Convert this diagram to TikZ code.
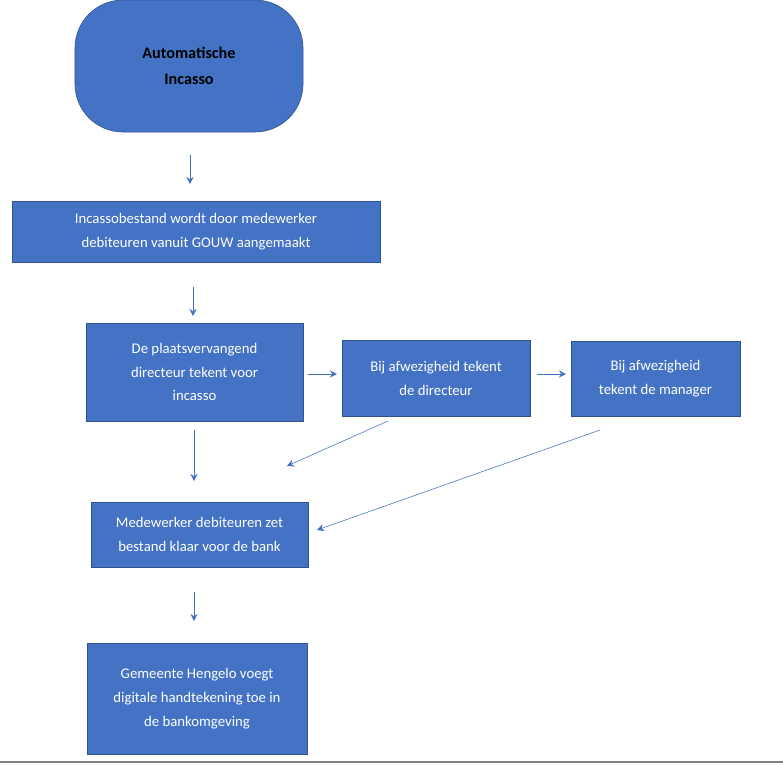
\documentclass[tikz,border=0pt]{standalone}
\usepackage{fontspec}
\setmainfont{Carlito}
\usetikzlibrary{arrows.meta}
\definecolor{boxfill}{HTML}{4472C4}
\definecolor{boxline}{HTML}{2F528F}
\tikzset{task/.style={rectangle,draw=boxline,fill=boxfill,text=white,align=center,inner sep=0pt,font=\fontsize{10.5}{17}\selectfont}}
\tikzset{flow/.style={draw=boxfill,-{Stealth[length=5pt,width=5pt]}}}
\begin{document}
\begin{tikzpicture}[x=0.025cm,y=-0.025cm]
  \useasboundingbox (0,0) rectangle (783,765);
  \node[task,rounded corners=1.2cm,minimum width=5.7cm,minimum height=3.3cm,text=black,font=\bfseries\fontsize{11.5}{19}\selectfont] (start) at (189,66) {Automatische\\Incasso};
  \node[task,minimum width=9.2cm,minimum height=1.525cm] (bestand) at (196,231.5) {Incassobestand wordt door medewerker\\debiteuren vanuit GOUW aangemaakt};
  \node[task,minimum width=5.425cm,minimum height=2.45cm] (plv) at (194.5,372) {De plaatsvervangend\\directeur tekent voor\\incasso};
  \node[task,minimum width=4.7cm,minimum height=1.9cm] (dir) at (436,378) {Bij afwezigheid tekent\\de directeur};
  \node[task,minimum width=4.225cm,minimum height=1.875cm] (man) at (655.5,378.5) {Bij afwezigheid\\tekent de manager};
  \node[task,minimum width=5.425cm,minimum height=1.625cm] (klaar) at (199.5,534.5) {Medewerker debiteuren zet\\bestand klaar voor de bank};
  \node[task,minimum width=5.5cm,minimum height=2.775cm] (bank) at (197,698.5) {Gemeente Hengelo voegt\\digitale handtekening toe in\\de bankomgeving};
  % losse pijlen
  \coordinate (a1) at (190,155); \coordinate (b1) at (190,184);
  \coordinate (a2) at (193,287); \coordinate (b2) at (193,316);
  \coordinate (a3) at (308,374); \coordinate (b3) at (337,374);
  \coordinate (a4) at (537,374); \coordinate (b4) at (566,374);
  \coordinate (a5) at (194,430); \coordinate (b5) at (194,481);
  \coordinate (a6) at (388,421); \coordinate (b6) at (287,466);
  \coordinate (a7) at (600,430); \coordinate (b7) at (317,530);
  \coordinate (a8) at (194,592); \coordinate (b8) at (194,621);
  \foreach \i in {1,...,8}
    \draw[flow] (a\i) -- (b\i);
  \draw[gray,line width=1pt] (0,762) -- (783,762);
\end{tikzpicture}
\end{document}
